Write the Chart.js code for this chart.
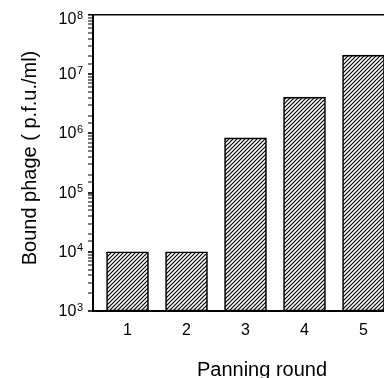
<!DOCTYPE html>
<html>
<head>
<meta charset="utf-8">
<script src="https://cdn.jsdelivr.net/npm/chart.js@4/dist/chart.umd.min.js"></script>
<style>
  html, body { margin: 0; padding: 0; background: #fff; overflow: hidden; width: 384px; height: 378px; }
  canvas { display: block; }
</style>
</head>
<body>
<canvas id="phageChart" width="440" height="390"></canvas>
<script>
// Data
const rounds = [1, 2, 3, 4, 5];
const boundPhage = [1.0e4, 1.0e4, 8.4e5, 4.1e6, 2.1e7];
const yExponents = [3, 4, 5, 6, 7, 8];
const tickBase = '10';
const yTitle = 'Bound phage ( p.f.u./ml)';

const FONT = "'Liberation Sans', Arial, Helvetica, sans-serif";

// Diagonal hatch fill
function makeHatch() {
    const c = document.createElement('canvas');
    c.width = 4;
    c.height = 4;
    const g = c.getContext('2d');
    g.fillStyle = '#fff';
    g.fillRect(0, 0, 4, 4);
    g.strokeStyle = '#000';
    g.lineWidth = 1.2;
    g.beginPath();
    g.moveTo(-1, 5); g.lineTo(5, -1);
    g.moveTo(-1, 1); g.lineTo(1, -1);
    g.moveTo(3, 5); g.lineTo(5, 3);
    g.stroke();
    return g.createPattern(c, 'repeat');
}

// "10" with a raised exponent for each decade, plus the rotated y title
const decadeLabels = {
    id: 'decadeLabels',
    afterDraw(chart) {
        const ctx = chart.ctx;
        const y = chart.scales.y;
        ctx.save();
        ctx.fillStyle = '#000';
        yExponents.forEach(e => {
            let py = y.getPixelForValue(Math.pow(10, e));
            // top label sits a little lower in the original
            if (py < chart.chartArea.top + 2) py += 4;
            const exp = String(e);
            ctx.font = '11px ' + FONT;
            const wExp = ctx.measureText(exp).width;
            const expX = 83 - wExp;
            ctx.textAlign = 'left';
            ctx.textBaseline = 'alphabetic';
            ctx.fillText(exp, expX, py - 0.5);
            ctx.font = '16px ' + FONT;
            ctx.textAlign = 'right';
            ctx.textBaseline = 'middle';
            ctx.fillText(tickBase, expX - 0.5, py + 0.5);
        });

        ctx.translate(30, 158);
        ctx.rotate(-Math.PI / 2);
        ctx.font = '20px ' + FONT;
        ctx.textAlign = 'center';
        ctx.textBaseline = 'middle';
        ctx.fillText(yTitle, 0, 0);
        ctx.restore();
    }
};

const ctx = document.getElementById('phageChart').getContext('2d');
new Chart(ctx, {
    type: 'bar',
    data: {
        datasets: [{
            data: rounds.map((r, i) => ({ x: r, y: boundPhage[i] })),
            backgroundColor: makeHatch(),
            borderColor: '#000',
            borderWidth: 1.6,
            borderSkipped: false,
            barThickness: 42
        }]
    },
    options: {
        responsive: false,
        devicePixelRatio: 1,
        animation: false,
        layout: { padding: { top: 15, right: 9, left: 0, bottom: 0 } },
        plugins: {
            legend: { display: false },
            tooltip: { enabled: false }
        },
        scales: {
            x: {
                type: 'linear',
                offset: false,
                min: 0.415,
                max: 6.144,
                afterBuildTicks: s => { s.ticks = rounds.map(v => ({ value: v })); },
                afterFit: s => { s.height = 79; },
                grid: { display: false, drawTicks: false, offset: false },
                border: { display: true, color: '#000', width: 2 },
                ticks: {
                    color: '#000',
                    font: { family: FONT, size: 16 },
                    padding: 10,
                    maxRotation: 0,
                    callback: v => String(v)
                },
                title: {
                    display: true,
                    text: 'Panning round',
                    color: '#000',
                    font: { family: FONT, size: 20 },
                    padding: { top: 0, bottom: 8 }
                }
            },
            y: {
                type: 'logarithmic',
                min: 1e3,
                max: 1e8,
                afterFit: s => { s.width = 93; },
                grid: {
                    drawOnChartArea: true,
                    drawTicks: true,
                    tickLength: 5,
                    color: c => (c.tick && c.tick.value === 1e8) ? '#000' : 'rgba(0,0,0,0)',
                    lineWidth: c => (c.tick && c.tick.value === 1e8) ? 1.5 : 0,
                    tickColor: '#000',
                    tickWidth: c => {
                        const v = c.tick ? c.tick.value : 0;
                        const l = Math.log10(v);
                        return Math.abs(l - Math.round(l)) < 1e-9 ? 1.6 : 1;
                    }
                },
                border: { display: true, color: '#000', width: 2 },
                ticks: { display: false },
                title: { display: false }
            }
        }
    },
    plugins: [decadeLabels]
});
</script>
</body>
</html>
